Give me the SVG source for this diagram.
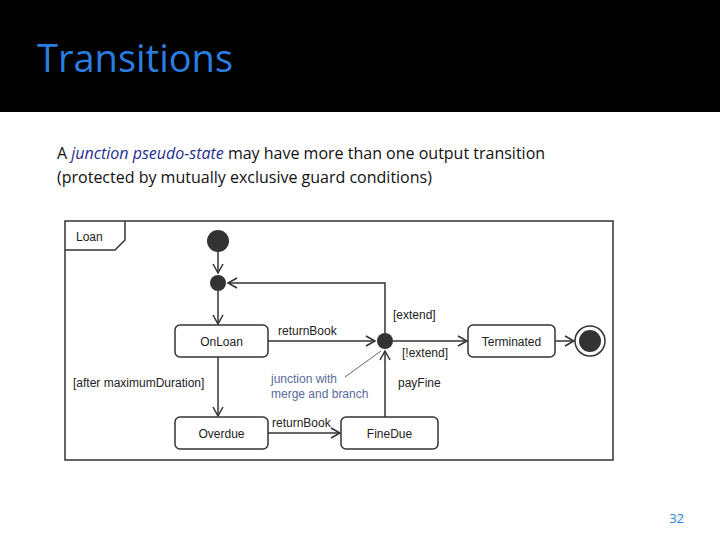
<svg xmlns="http://www.w3.org/2000/svg" width="720" height="540" viewBox="0 0 720 540">
<defs>
<style>
.t{font-family:"Liberation Sans",Arial,sans-serif;font-size:12px;fill:#222}
.b{fill:#fff;stroke:#333;stroke-width:1.5}
.l{stroke:#333;stroke-width:1.5;fill:none}
.body{font-family:"Open Sans","DejaVu Sans",sans-serif;font-size:16px;fill:#111}
</style>
<marker id="a" markerWidth="12" markerHeight="12" refX="10" refY="6" orient="auto" markerUnits="userSpaceOnUse"><path d="M1,1 L10,6 L1,11" fill="none" stroke="#333" stroke-width="1.5"/></marker>
</defs>
<rect width="720" height="540" fill="#fff"/>
<rect width="720" height="112" fill="#000"/>
<text x="37" y="72" font-family="'Open Sans','DejaVu Sans',sans-serif" font-size="38" fill="#2a7de1">Transitions</text>
<text class="body" x="57" y="159">A <tspan fill="#1f2f8f" font-style="italic">junction pseudo-state</tspan> may have more than one output transition</text>
<text class="body" x="57" y="183">(protected by mutually exclusive guard conditions)</text>
<g id="frame">
<rect x="65" y="221" width="548" height="239" fill="#fff" stroke="#333" stroke-width="1.5"/>
<path d="M65,250 H115 L125,240 V221" class="l"/>
<text class="t" x="76" y="241">Loan</text>
</g>
<g id="connectors">
<line class="l" x1="218" y1="252" x2="218" y2="273" marker-end="url(#a)"/>
<line class="l" x1="218" y1="291" x2="218" y2="324" marker-end="url(#a)"/>
<line class="l" x1="268" y1="341" x2="375" y2="341" marker-end="url(#a)"/>
<text class="t" x="278" y="335">returnBook</text>
<path class="l" d="M385,333 V283 H228" marker-end="url(#a)"/>
<text class="t" x="393" y="319">[extend]</text>
<line class="l" x1="393" y1="341" x2="467" y2="341" marker-end="url(#a)"/>
<text class="t" x="402" y="357">[!extend]</text>
<line class="l" x1="555" y1="341" x2="574" y2="341" marker-end="url(#a)"/>
<line class="l" x1="218" y1="357" x2="218" y2="416" marker-end="url(#a)"/>
<text class="t" x="73" y="387">[after maximumDuration]</text>
<line class="l" x1="268" y1="433" x2="340" y2="433" marker-end="url(#a)"/>
<text class="t" x="272" y="427">returnBook</text>
<line class="l" x1="385" y1="417" x2="385" y2="351" marker-end="url(#a)"/>
<text class="t" x="398" y="387">payFine</text>
<line x1="345" y1="377" x2="381" y2="351" stroke="#666" stroke-width="1"/>
<text class="t" x="271" y="383" fill="#5a6a9a" style="fill:#5a6a9a">junction with</text>
<text class="t" x="271" y="398" style="fill:#5a6a9a">merge and branch</text>
</g>
<g id="initial"><circle cx="218" cy="241" r="11" fill="#333"/></g>
<g id="junction1"><circle cx="218" cy="283" r="8" fill="#333"/></g>
<g id="junction2"><circle cx="385" cy="341" r="8" fill="#333"/></g>
<g id="OnLoan"><rect class="b" x="175" y="325" width="93" height="32" rx="5"/><text class="t" x="221.5" y="345.5" text-anchor="middle">OnLoan</text></g>
<g id="Terminated"><rect class="b" x="468" y="325" width="87" height="32" rx="5"/><text class="t" x="511.5" y="345.5" text-anchor="middle">Terminated</text></g>
<g id="final"><circle cx="590" cy="341" r="15" fill="#fff" stroke="#333" stroke-width="1.5"/><circle cx="590" cy="341" r="11" fill="#333"/></g>
<g id="Overdue"><rect class="b" x="175" y="417" width="93" height="32" rx="5"/><text class="t" x="221.5" y="437.5" text-anchor="middle">Overdue</text></g>
<g id="FineDue"><rect class="b" x="341" y="417" width="97" height="32" rx="5"/><text class="t" x="389.5" y="437.5" text-anchor="middle">FineDue</text></g>
<text x="684" y="523" font-family="'Open Sans','DejaVu Sans',sans-serif" font-size="13" fill="#2a7de1" text-anchor="end">32</text>
</svg>
